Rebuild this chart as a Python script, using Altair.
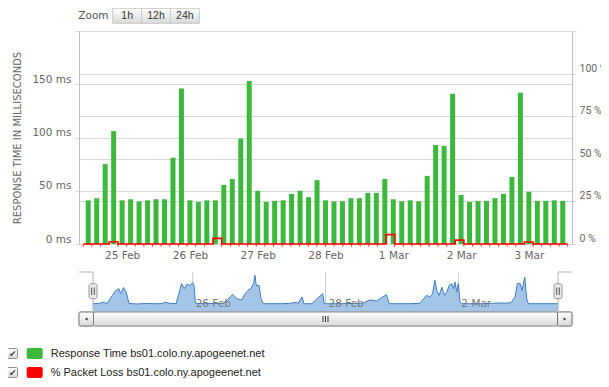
import altair as alt
import pandas as pd

# ---------------- data ----------------
START = "2015-02-24 12:00"          # first 3-hour sample
response_ms = [41, 43, 75, 106, 41, 42, 40, 41, 42, 42, 81, 146, 41, 39.5, 41, 41,
               55.5, 61, 99, 153, 50, 39.5, 40.5, 41, 47, 50, 44, 60, 41, 40, 40, 43,
               43, 48, 48, 61, 42, 40, 41, 40, 64, 93, 92, 141, 46, 39.5, 40.5, 40.5,
               43, 47, 63, 142, 49, 40.5, 40.5, 41, 40.5]
packet_loss_pct = [0, 0, 0, 1.3, 0, 0, 0, 0, 0, 0, 0, 0, 0, 0, 0, 3.3,
                   0, 0, 0, 0, 0, 0, 0, 0, 0, 0, 0, 0, 0, 0, 0, 0,
                   0, 0, 0, 5.5, 0, 0, 0, 0, 0, 0, 0, 2.3, 0, 0, 0, 0,
                   0, 0, 0, 1.2, 0, 0, 0, 0, 0]
x_tick_days = ["2015-02-25", "2015-02-26", "2015-02-27", "2015-02-28",
               "2015-03-01", "2015-03-02", "2015-03-03"]

nav_hours = [0, 2, 4, 5, 7, 8, 9.3, 10, 11, 12, 13, 16, 19, 22, 25, 26, 28, 30, 31, 32,
             33, 34, 35, 36, 36.5, 37, 40, 44, 47, 50.5, 52, 53.7, 55, 56, 57, 58, 58.5,
             59, 60, 60.7, 61.5, 65, 68, 71, 73.6, 74, 75.5, 76.2, 79, 83, 83.5, 87, 90,
             94, 97, 100, 102.5, 106, 107, 110, 114, 118, 120.5, 121.7, 122.7, 123.5,
             124.2, 125.1, 126, 127, 127.8, 128.7, 129.6, 130.2, 130.8, 131.4, 132,
             132.6, 133.2, 136, 140, 144, 146, 149, 151, 152.5, 153.3, 154.3, 155, 156,
             156.7, 157.3, 160, 164, 168]
nav_ms = [40, 41, 46, 40, 73, 90, 100, 80, 104, 86, 41, 39, 41, 40, 40, 46, 41, 40, 78, 120,
          100, 118, 112, 124, 112, 42, 40, 41, 40, 77, 60, 55, 80, 93, 100, 120, 153,
          112, 113, 60, 40, 40, 40, 41, 46, 40, 67, 40, 40, 80, 40, 40, 40,
          41, 40, 55, 51, 76, 40, 40, 40, 41, 73, 67, 80, 133,
          93, 73, 106, 73, 86, 113, 120, 100, 126, 86, 120,
          47, 40, 40, 40, 41, 43, 42, 44, 67, 120, 120, 93, 146,
          60, 40, 40, 40, 40]
nav_label_days = ["2015-02-26", "2015-02-28", "2015-03-02"]

series_names = ["Response Time bs01.colo.ny.apogeenet.net",
                "% Packet Loss bs01.colo.ny.apogeenet.net"]
series_colors = ["#3cb83c", "#ff0000"]
zoom_buttons = ["1h", "12h", "24h"]

# ---------------- tables ----------------
times = pd.date_range(START, periods=len(response_ms), freq="3h")
main_df = pd.DataFrame({"t": times, "ms": response_ms, "loss": packet_loss_pct})
nav_df = pd.DataFrame({"t": pd.Timestamp(START) + pd.to_timedelta(nav_hours, unit="h"),
                       "ms": nav_ms})
navtick_df = pd.DataFrame({"t": pd.to_datetime(nav_label_days)})
ends_df = pd.DataFrame({"t0": [times[0]], "t1": [times[-1]]})
handles_df = pd.DataFrame({"t": [times[0], times[-1]]})
legend_df = pd.DataFrame({"row": [0, 1], "series": series_names})
btn_df = pd.DataFrame({"label": zoom_buttons})
one = pd.DataFrame({"a": [0]})

W, H = 493, 213
FONT = "DejaVu Sans"
GRID = "#d8d8d8"
AXLINE = "#c0c0c0"


def dt(s):
    ts = pd.Timestamp(s)
    return alt.DateTime(year=ts.year, month=ts.month, date=ts.day,
                        hours=ts.hour, minutes=ts.minute)


main_x_scale = alt.Scale(domain=[dt("2015-02-24 10:30"), dt("2015-03-03 13:30")],
                         range=[0, W], nice=False)
nav_x_scale = alt.Scale(domain=[dt("2015-02-24 12:00"), dt("2015-03-03 12:00")],
                        range=[14, 479], nice=False)
ms_scale = alt.Scale(domain=[0, 200], range=[H, 0], nice=False, zero=True)
pct_scale = alt.Scale(domain=[0, 125], range=[H, 0], nice=False, zero=True)
nav_y_scale = alt.Scale(domain=[7, 166], range=[281, 241], nice=False, zero=False)
color_scale = alt.Scale(domain=series_names, range=series_colors)

grad = {"gradient": "linear", "x1": 0, "x2": 0, "y1": 0, "y2": 1,
        "stops": [{"offset": 0, "color": "#ffffff"}, {"offset": 1, "color": "#d9d9d9"}]}

# ---------------- main chart ----------------
bars = alt.Chart(main_df).mark_bar(width=5, color=series_colors[0]).encode(
    x=alt.X("t:T", scale=main_x_scale, title=None,
            axis=alt.Axis(orient="bottom", values=[dt(d) for d in x_tick_days],
                          format="%-d %b", grid=False, domain=False, ticks=False,
                          labelPadding=6, labelFont=FONT, labelFontSize=10.5,
                          labelColor="#666", labelFlush=False, labelOverlap=False)),
    y=alt.Y("ms:Q", scale=ms_scale,
            axis=alt.Axis(orient="left", values=[0, 50, 100, 150, 200],
                          labelExpr="datum.value == 200 ? '' : datum.value + ' ms'",
                          grid=True, gridColor=GRID, domain=True, domainColor=AXLINE,
                          ticks=True, tickSize=4, tickColor=GRID,
                          labelFont=FONT, labelFontSize=10.5, labelColor="#666",
                          labelPadding=4, labelOffset=-5, labelBaseline="middle",
                          title="RESPONSE TIME IN MILLISECONDS", titleFont=FONT,
                          titleFontSize=10, titleFontWeight="normal", titleColor="#666",
                          titleAngle=270, titleX=-62, titleY=H / 2, titleAlign="center",
                          titleBaseline="middle")),
)

loss_line = alt.Chart(main_df).mark_line(interpolate="step-after", color="#ff0000",
                                         strokeWidth=1.6).encode(
    x=alt.X("t:T", scale=main_x_scale, axis=None),
    y=alt.Y("loss:Q", scale=pct_scale,
            axis=alt.Axis(orient="right", values=[0, 25, 50, 75, 100, 125],
                          labelExpr="datum.value > 100 ? '' : datum.value + ' %'",
                          grid=True, gridColor=GRID, domain=True, domainColor=AXLINE,
                          ticks=True, tickSize=4, tickColor=GRID,
                          labelFont="Roboto", labelFontSize=10.5, labelColor="#666",
                          labelPadding=3, labelOffset=-5.5, labelBaseline="middle",
                          title=None)),
)

loss_ticks = alt.Chart(main_df).mark_tick(orient="vertical", size=3, thickness=1,
                                          color="#ff0000", yOffset=1.5).encode(
    x=alt.X("t:T", scale=main_x_scale, axis=None),
    y=alt.Y("loss:Q", scale=pct_scale, axis=None),
)

# ---------------- zoom buttons ----------------
zoom_text = alt.Chart(one).mark_text(text="Zoom", align="left", baseline="middle",
                                     font=FONT, fontSize=10.5, color="#555").encode(
    x=alt.value(-0.7), y=alt.value(-14.7))
btn_scale = alt.Scale(type="band", domain=zoom_buttons, range=[33.7, 120.3],
                      paddingInner=0, paddingOuter=0)
btn_rect = alt.Chart(btn_df).mark_rect(fill=grad, stroke="#c8c8c8", strokeWidth=1).encode(
    x=alt.X("label:N", scale=btn_scale, axis=None),
    y=alt.value(-22.7), y2=alt.value(-7.7))
btn_text = alt.Chart(btn_df).mark_text(baseline="middle", font="Liberation Sans",
                                       fontSize=10.5, color="#333").encode(
    x=alt.X("label:N", scale=btn_scale, axis=None, bandPosition=0.5),
    y=alt.value(-15), text="label:N")

# ---------------- navigator ----------------
nav_grid = alt.Chart(navtick_df).mark_rule(color="#cfcfcf", strokeWidth=1).encode(
    x=alt.X("t:T", scale=nav_x_scale, axis=None), y=alt.value(241), y2=alt.value(281))
nav_area = alt.Chart(nav_df).mark_area(color="#a3c6e8", opacity=1).encode(
    x=alt.X("t:T", scale=nav_x_scale, axis=None),
    y=alt.Y("ms:Q", scale=nav_y_scale, axis=None), y2=alt.value(281))
nav_line = alt.Chart(nav_df).mark_line(color="#3f7cc0", strokeWidth=1).encode(
    x=alt.X("t:T", scale=nav_x_scale, axis=None),
    y=alt.Y("ms:Q", scale=nav_y_scale, axis=None))
nav_labels = alt.Chart(navtick_df).mark_text(align="left", baseline="middle", dx=3,
                                             font=FONT, fontSize=10.5, color="#777").encode(
    x=alt.X("t:T", scale=nav_x_scale, axis=None), y=alt.value(273),
    text=alt.Text("t:T", format="%-d %b"))

outline_v = alt.Chart(handles_df).mark_rule(color="#b2b1b6").encode(
    x=alt.X("t:T", scale=nav_x_scale, axis=None), y=alt.value(241), y2=alt.value(281))
outline_l = alt.Chart(one).mark_rule(color="#b2b1b6").encode(
    x=alt.value(0), x2=alt.value(14), y=alt.value(241))
outline_r = alt.Chart(one).mark_rule(color="#b2b1b6").encode(
    x=alt.value(479), x2=alt.value(493), y=alt.value(241))

track = alt.Chart(one).mark_rect(fill="#eeeeee", stroke="#bbbbbb").encode(
    x=alt.value(0), x2=alt.value(493), y=alt.value(281), y2=alt.value(295))
thumb = alt.Chart(ends_df).mark_rect(fill=grad, stroke="#8a8a8a", cornerRadius=3).encode(
    x=alt.X("t0:T", scale=nav_x_scale, axis=None), x2="t1:T",
    y=alt.value(281), y2=alt.value(295))
btn_l = alt.Chart(one).mark_rect(fill=grad, stroke="#777", cornerRadius=2).encode(
    x=alt.value(0), x2=alt.value(14.5), y=alt.value(281), y2=alt.value(295))
btn_r = alt.Chart(one).mark_rect(fill=grad, stroke="#777", cornerRadius=2).encode(
    x=alt.value(478.5), x2=alt.value(493), y=alt.value(281), y2=alt.value(295))
arr_l = alt.Chart(one).mark_point(shape="triangle-left", filled=True, size=10,
                                  color="#333", opacity=1).encode(
    x=alt.value(7.2), y=alt.value(288))
arr_r = alt.Chart(one).mark_point(shape="triangle-right", filled=True, size=10,
                                  color="#333", opacity=1).encode(
    x=alt.value(486), y=alt.value(288))
grip = alt.Chart(pd.DataFrame({"g": [-2.5, 0, 2.5]})).mark_rule(color="#333").encode(
    x=alt.X("g:Q", scale=alt.Scale(domain=[-10, 10], range=[236.5, 256.5]), axis=None),
    y=alt.value(285), y2=alt.value(291))

handle_box = alt.Chart(handles_df).mark_rect(fill="#ebe7e8", stroke="#999",
                                             cornerRadius=2, xOffset=-4, x2Offset=4).encode(
    x=alt.X("t:T", scale=nav_x_scale, axis=None), x2="t:T",
    y=alt.value(252.7), y2=alt.value(267.7))
handle_l1 = alt.Chart(handles_df).mark_rule(color="#555", xOffset=-1.3).encode(
    x=alt.X("t:T", scale=nav_x_scale, axis=None), y=alt.value(256.5), y2=alt.value(264))
handle_l2 = alt.Chart(handles_df).mark_rule(color="#555", xOffset=1.3).encode(
    x=alt.X("t:T", scale=nav_x_scale, axis=None), y=alt.value(256.5), y2=alt.value(264))

# ---------------- legend ----------------
leg_y = alt.Scale(domain=[0, 1], range=[322.5, 341.5], nice=False, zero=False)
check_box = alt.Chart(legend_df).mark_rect(fill=grad, stroke="#8f8f8f", cornerRadius=1,
                                           yOffset=-5, y2Offset=5).encode(
    x=alt.value(-71.5), x2=alt.value(-61.5),
    y=alt.Y("row:Q", scale=leg_y, axis=None), y2="row:Q")
check_mark = alt.Chart(legend_df).mark_text(text="✔", font=FONT, fontSize=9,
                                            color="#444", baseline="middle").encode(
    x=alt.value(-66.3), y=alt.Y("row:Q", scale=leg_y, axis=None))
swatch = alt.Chart(legend_df).mark_rect(cornerRadius=2, yOffset=-5.5, y2Offset=5.5).encode(
    x=alt.value(-52.3), x2=alt.value(-36.3),
    y=alt.Y("row:Q", scale=leg_y, axis=None), y2="row:Q",
    color=alt.Color("series:N", scale=color_scale, legend=None))
leg_text = alt.Chart(legend_df).mark_text(align="left", baseline="middle",
                                          font="Liberation Sans", fontSize=11,
                                          color="#222").encode(
    x=alt.value(-28.3), y=alt.Y("row:Q", scale=leg_y, axis=None), text="series:N")

chart = alt.layer(
    bars, loss_line, loss_ticks,
    zoom_text, btn_rect, btn_text,
    nav_grid, nav_area, nav_line, nav_labels,
    outline_v, outline_l, outline_r,
    track, thumb, btn_l, btn_r, arr_l, arr_r, grip,
    handle_box, handle_l1, handle_l2,
    check_box, check_mark, swatch, leg_text,
).resolve_scale(
    x="independent", y="independent", color="independent"
).properties(
    width=W, height=H,
    autosize=alt.AutoSizeParams(type="none"),
    padding={"left": 71, "top": 23, "right": 29, "bottom": 135},
    background="white",
).configure_view(stroke=None)

chart.save("out.html", embed_options={"renderer": "svg", "actions": False})
